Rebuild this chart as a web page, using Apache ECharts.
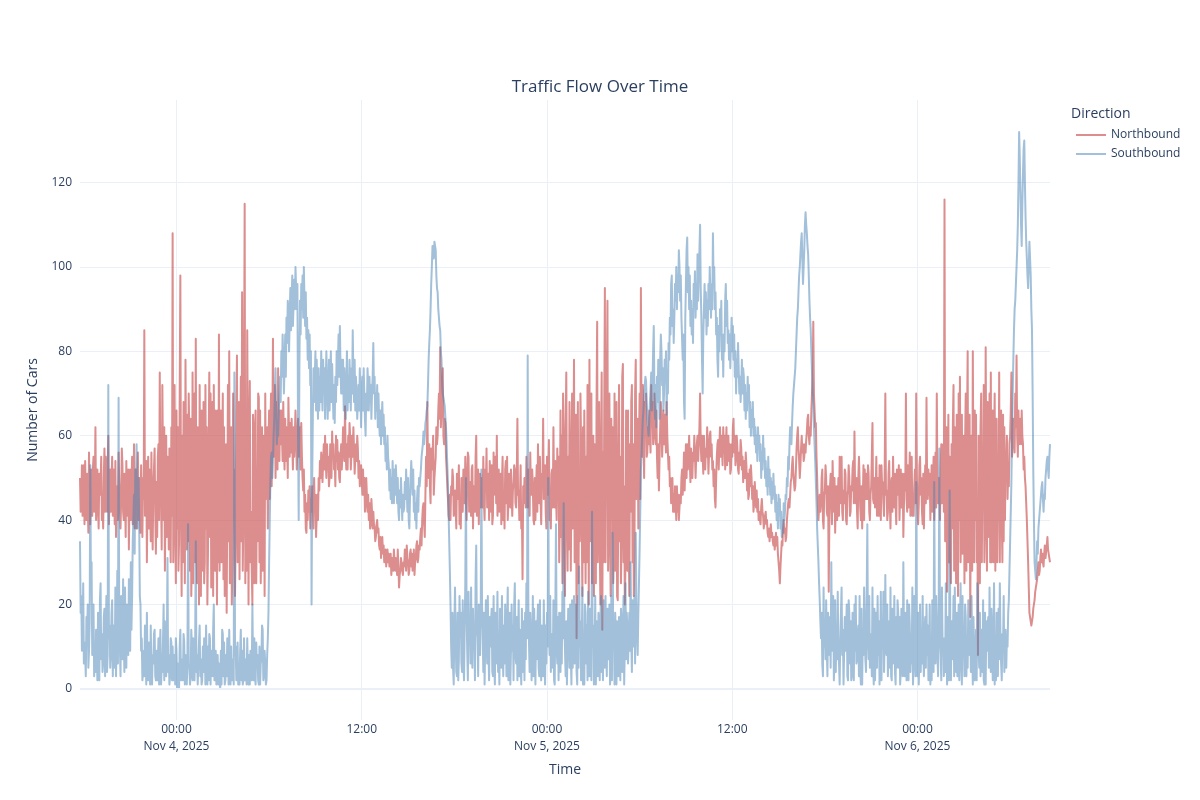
<!DOCTYPE html>
<html>
<head>
<meta charset="utf-8">
<script src="https://cdn.jsdelivr.net/npm/echarts@6/dist/echarts.min.js"></script>
<style>html,body{margin:0;padding:0;background:#fff}#chart{width:1200px;height:800px}</style>
</head>
<body>
<div id="chart"></div>
<script>
// ---- data: readings every 2.5 minutes; each row = one hour starting at HH:45 (first row 2025-11-03 17:45) ----
const startTime = new Date(2025, 10, 3, 17, 45).getTime();
const stepMinutes = 2.5;
const endTime = new Date(2025, 10, 6, 8, 35).getTime();

const northbound = [
[50,42,44,53,41,48,53,39,54,46,40,51,44,37,56,45,39,52,47,41,52,55,42,47],
[62,40,45,52,43,38,51,46,49,55,40,44,38,50,57,42,55,47,42,53,60,39,47,52],
[42,50,55,41,52,47,39,54,36,45,48,40,56,49,43,38,45,57,53,42,40,51,46,36],
[54,44,41,52,33,47,52,40,47,55,39,45,58,38,44,52,38,49,56,40,50,44,37,53],
[44,36,50,45,85,41,42,54,30,47,55,38,52,44,35,56,41,33,48,52,57,42,32,49],
[36,55,58,40,75,50,46,33,72,54,40,62,28,45,60,36,55,48,33,57,45,30,62,41],
[108,30,46,72,40,25,66,38,62,28,35,70,98,42,22,60,30,68,57,25,78,50,33,65],
[35,70,60,28,64,22,33,75,25,55,70,30,83,35,25,62,48,20,72,45,22,66,55,28],
[68,25,30,72,38,62,20,33,57,75,36,70,24,50,68,22,72,45,28,66,45,20,66,30],
[84,28,47,66,30,52,70,26,62,22,28,58,18,44,72,35,80,25,35,62,20,30,70,46],
[52,22,38,65,79,30,45,68,26,52,74,35,94,28,40,70,115,25,48,28,85,55,20,60],
[73,30,42,28,20,65,61,25,58,66,25,48,35,70,69,30,66,25,38,62,28,60,57,22],
[70,45,48,62,38,58,66,45,62,70,48,60,83,55,60,72,50,64,68,52,76,60,54,66],
[58,66,60,54,68,58,52,64,54,62,58,50,69,60,55,63,56,64,58,52,62,55,60,66],
[60,52,58,64,55,60,62,52,63,55,50,47,52,42,46,38,37,44,40,47,42,48,38,45],
[42,48,44,38,50,42,46,36,36,46,40,50,47,54,50,56,56,49,54,58,52,60,54,50],
[58,52,55,48,50,58,54,50,61,55,58,52,54,48,60,54,59,52,56,50,49,55,58,52],
[56,62,58,54,67,56,52,58,52,60,55,63,60,52,56,60,55,62,57,51,51,58,54,60],
[57,50,54,48,48,53,50,46,52,46,50,42,44,50,46,42,46,40,44,38,39,45,42,38],
[42,39,38,35,36,39,40,37,38,34,33,36,31,34,36,32,34,30,30,33,29,31,33,30],
[32,29,29,32,27,30,31,28,33,30,28,31,30,27,33,29,24,27,28,31,31,28,27,30],
[29,33,32,28,34,31,30,27,28,32,33,29,32,28,29,33,27,30,31,34,35,30,31,34],
[33,36,38,34,40,43,44,39,36,46,55,48,68,52,50,58,48,44,57,52,54,60,46,50],
[50,55,62,58,60,66,70,64,81,62,66,72,76,60,58,64,63,55,52,48,45,41,40,46],
[40,48,46,52,50,41,42,47,43,38,51,45,47,53,39,44,38,50,48,42,52,46,44,55],
[45,40,50,56,55,42,43,49,41,52,53,38,48,44,42,55,60,41,46,52,39,47,51,43],
[50,44,43,55,44,40,52,47,57,43,45,51,40,54,49,42,53,39,41,56,46,50,55,44],
[60,41,45,52,42,48,51,39,49,55,40,46,38,52,54,44,55,40,44,51,47,43,52,46],
[41,47,49,53,52,44,43,50,64,46,47,40,45,53,38,42,26,48,44,50,50,43,55,47],
[43,52,50,41,56,47,46,52,48,40,39,50,40,47,53,42,58,45,44,55,45,39,51,48],
[64,45,47,53,42,38,55,46,51,59,40,44,38,51,52,43,62,47,43,54,46,40,57,49],
[55,30,42,66,36,60,25,70,60,40,22,62,75,42,28,55,33,68,52,28,48,70,38,53],
[78,30,45,65,12,44,68,25,52,35,70,58,40,22,62,30,66,48,25,55,30,72,57,20],
[78,35,40,70,25,50,60,22,58,44,25,66,87,30,47,68,36,20,55,75,14,56,30,65],
[95,30,55,72,92,28,38,70,40,22,64,45,62,25,35,70,28,52,68,22,21,50,72,35],
[55,25,36,74,77,30,48,20,30,66,60,28,66,35,22,58,42,68,72,30,58,22,33,70],
[78,45,50,64,38,58,70,45,95,60,55,72,62,50,68,60,70,55,56,62,58,66,60,56],
[72,62,68,58,60,70,66,58,66,55,50,58,47,55,62,68,64,55,60,66,58,65,60,56],
[68,60,56,52,55,48,50,44,46,50,42,46,42,48,44,40,48,42,46,40,40,46,44,50],
[52,46,50,56,47,53,58,50,58,52,55,60,54,49,57,52,50,56,54,60,56,50,55,58],
[60,54,58,62,70,58,54,60,55,51,60,54,52,57,55,62,58,51,56,60,61,55,58,52],
[54,48,52,45,43,50,55,58,59,52,58,62,55,60,57,53,62,56,60,52,57,62,53,58],
[60,54,58,51,52,58,55,62,64,56,60,53,55,60,57,52,51,56,53,59,57,52,55,49],
[49,54,50,56,53,47,51,45,46,52,48,53,50,45,48,42,44,49,46,43,47,42,45,40],
[42,40,39,43,45,42,41,38,38,41,42,39,40,37,36,38,35,37,39,36,37,35,34,36],
[33,35,37,34,36,32,30,28,25,29,32,35,34,38,40,37,38,35,36,40,42,44,45,43],
[46,49,50,53,55,51,49,47,48,52,57,60,62,57,54,50,53,57,60,56,58,54,55,58],
[56,59,61,64,65,60,58,62,60,66,70,74,87,70,66,62,63,55,50,44,40,43,46,42],
[44,50,52,40,38,46,47,53,50,42,41,48,23,40,48,51,46,39,54,47,42,50,37,44],
[48,40,43,50,41,55,52,44,55,42,40,47,44,52,51,40,39,46,47,53,50,41,42,48],
[47,52,54,44,61,47,44,50,42,38,50,55,49,43,40,48,38,45,53,40,52,46,45,51],
[45,53,51,42,40,46,48,55,63,45,44,50,43,47,55,41,50,44,41,53,46,40,53,48],
[49,44,41,52,70,46,47,40,42,51,54,44,38,48,50,42,55,47,43,51,44,39,52,46],
[47,53,40,46,52,43,45,51,36,44,51,47,70,45,42,53,43,49,56,41,48,55,41,46],
[41,48,52,44,70,50,43,39,44,53,55,46,50,42,39,51,38,47,53,44,69,48,45,52],
[46,51,40,47,53,42,47,55,40,46,56,43,70,48,44,50,48,40,52,58,44,50,58,42],
[116,35,48,62,23,42,65,30,55,36,25,58,38,63,72,28,62,48,25,65,45,22,70,40],
[74,30,40,65,32,52,60,25,58,70,28,62,80,30,47,65,17,45,60,28,80,48,30,66],
[40,65,30,45,8,60,48,25,62,70,30,52,45,72,30,40,81,50,28,68,36,45,70,30],
[75,30,44,66,30,58,70,28,58,64,30,46,42,75,30,60,66,40,30,65,35,62,40,55],
[54,60,45,52,48,58,60,66,75,55,58,64,62,56,70,62,79,60,55,66,58,63,64,58],
[66,60,58,52,55,50,48,44,40,35,30,24,18,17,16,15,15,17,19,20,21,23,24,25],
[26,28,30,27,28,31,33,30,32,30,29,32,34,31,31,34,36,33,33,31,30]
];

const southbound = [
[35,18,22,9,14,25,6,11,8,3,17,12,20,5,9,16,53,24,30,8,12,20,3,10],
[4,14,11,2,18,9,2,21,25,7,13,4,6,17,19,3,10,22,4,8,72,12,15,5],
[8,18,21,3,15,10,5,24,3,12,28,6,69,14,10,3,22,9,7,26,12,4,24,11],
[5,20,16,8,26,12,9,30,14,22,35,40,46,32,52,44,58,38,44,50,40,22,20,9],
[12,2,4,9,3,15,10,1,18,6,2,11,7,1,15,4,1,8,6,13,14,3,2,9],
[2,7,12,1,9,14,1,5,4,11,20,2,16,6,3,10,31,4,8,1,3,12,11,2],
[10,2,3,8,1,12,9,0,6,3,0,10,14,2,4,7,2,13,11,1,8,4,1,6],
[39,6,5,1,3,14,10,2,12,6,2,9,35,4,8,1,1,11,15,3,7,1,2,10],
[4,12,9,1,15,5,1,10,2,13,12,1,9,4,3,14,20,2,6,9,1,5,8,1],
[6,2,0,9,1,14,13,3,11,1,2,8,3,12,9,1,14,4,1,10,2,6,7,1],
[75,8,10,2,4,11,1,5,1,9,14,2,9,1,2,12,2,7,6,1,12,4,1,8],
[1,9,5,2,20,6,2,12,3,1,11,5,8,2,1,10,1,6,7,15,14,2,3,9],
[6,1,2,8,12,18,30,40,49,55,56,50,54,60,64,70,76,66,58,63,60,66,70,74],
[68,80,74,84,78,70,76,84,74,88,82,92,90,80,88,95,85,92,98,86,91,97,90,100],
[100,90,96,60,40,75,92,84,96,90,98,88,100,92,86,94,83,88,78,85,76,84,72,80],
[20,50,65,76,68,74,80,66,78,70,64,76,66,74,68,80,72,66,78,70,76,64,72,80],
[72,64,70,78,66,74,80,68,77,70,64,72,63,74,68,80,72,78,84,74,86,76,70,78],
[70,78,66,76,70,64,72,80,66,74,68,78,72,66,76,70,85,74,68,78,66,74,70,64],
[64,72,66,76,70,62,70,74,66,76,70,64,60,70,66,76,72,66,74,68,72,64,70,74],
[82,70,74,64,70,66,72,62,70,64,60,66,58,64,68,60,65,58,62,54,58,52,60,55],
[53,47,52,45,50,44,54,48,44,52,46,53,49,44,50,42,40,47,43,50,45,40,46,42],
[43,49,45,52,47,42,50,40,38,45,50,54,50,46,52,42,47,40,44,38,45,48,42,50],
[48,50,52,55,55,58,61,58,60,63,64,66,67,72,78,82,85,90,96,100,105,103,102,106],
[106,104,98,95,94,90,88,86,85,80,78,72,70,69,68,67,67,62,58,53,49,42,35,28],
[20,10,5,18,5,1,15,24,12,4,3,18,2,7,22,14,18,6,4,21,7,2,14,25],
[50,18,9,2,23,12,16,6,24,10,5,19,10,15,2,26,34,14,12,3,20,9,8,17],
[52,20,14,4,18,1,1,21,15,6,22,9,2,17,10,16,19,4,3,22,5,1,18,6],
[12,23,4,9,1,19,17,5,22,10,3,15,6,20,14,3,16,24,2,11,18,1,9,20],
[9,15,2,20,25,8,6,17,2,12,21,3,14,6,1,19,4,13,16,2,18,7,25,12],
[79,20,11,4,18,13,2,8,22,3,19,10,1,16,7,15,20,5,3,21,8,2,15,6],
[3,21,9,1,15,6,18,10,50,14,8,22,4,12,13,5,21,2,1,19,39,10,6,17],
[2,18,10,4,18,6,23,12,44,15,9,3,16,1,1,19,13,5,20,8,1,21,5,12],
[22,6,12,20,4,1,22,5,29,10,16,2,9,24,1,13,1,20,18,6,15,2,23,9],
[3,19,13,2,42,10,15,1,7,22,1,16,16,3,18,11,2,16,22,4,11,2,21,8],
[5,22,10,3,19,7,12,20,1,4,22,2,37,10,14,1,18,14,1,16,14,3,17,12],
[2,19,16,4,12,22,1,10,25,7,18,14,6,12,18,9,30,12,4,21,10,18,22,6],
[37,20,12,8,18,25,33,42,52,55,60,64,66,70,72,74,73,68,64,62,60,64,68,71],
[75,66,72,80,86,70,64,72,62,74,68,78,72,64,78,84,80,72,76,66,70,78,74,80],
[65,74,70,82,78,88,84,96,98,86,90,82,88,96,92,100,90,98,94,104,100,92,98,88],
[88,78,84,68,64,88,96,104,107,94,100,90,98,86,92,84,90,82,96,92,99,88,96,90],
[103,92,98,104,110,95,88,78,70,84,90,96,88,94,84,92,86,96,90,100,94,88,96,90],
[108,96,100,90,94,84,88,78,74,86,80,90,84,92,78,84,74,84,80,92,96,86,92,82],
[85,78,84,76,82,88,80,86,78,84,74,80,70,78,74,82,76,70,74,68,72,78,70,76],
[74,66,72,64,70,66,74,68,72,62,68,60,66,62,68,60,64,58,62,56,60,54,62,58],
[60,54,58,50,56,52,60,54,57,50,54,48,52,46,55,48,52,46,50,44,49,45,51,46],
[48,42,46,40,44,38,46,42,45,38,42,36,40,37,44,40,42,46,45,50,48,55,52,58],
[62,60,58,63,67,70,72,74,76,80,84,88,90,94,98,100,103,106,108,102,96,100,104,110],
[113,110,108,105,103,98,92,88,85,80,75,70,67,62,58,54,49,44,38,34,30,25,21,16],
[12,18,6,3,24,10,15,7,21,9,3,18,8,13,17,5,30,12,9,22,2,8,21,4],
[15,7,23,9,6,1,12,18,24,8,14,1,1,17,9,14,20,3,2,21,18,6,16,2],
[3,18,10,2,20,9,22,6,7,13,15,3,22,5,1,19,1,14,8,24,16,7,4,21],
[39,12,7,22,5,10,13,3,24,6,1,19,2,11,18,5,22,8,16,1,8,23,2,16],
[11,23,4,12,27,9,8,20,3,10,16,5,24,3,2,19,6,12,22,4,1,17,5,21],
[18,5,17,1,4,19,11,3,30,12,3,18,9,2,21,6,2,20,15,4,13,6,24,1],
[6,22,14,3,49,10,3,18,1,8,20,4,12,6,22,9,3,14,17,5,20,8,15,2],
[9,20,1,8,2,21,13,4,49,15,6,22,15,8,3,20,57,12,8,2,24,10,12,3],
[12,4,25,10,1,17,9,2,47,14,2,16,7,12,22,3,24,8,4,18,3,11,20,2],
[14,25,6,1,22,9,11,3,20,17,3,12,5,21,13,8,16,4,22,10,1,17,9,2],
[8,14,2,25,22,9,5,18,3,11,14,4,21,2,1,18,1,16,9,15,17,5,24,10],
[4,19,13,2,10,25,1,12,2,18,16,3,19,7,25,12,6,2,13,10,22,4,8,14],
[5,12,10,18,21,28,35,42,49,60,70,78,85,90,92,96,96,104,110,120,132,126,118,110],
[105,115,122,128,130,120,112,106,102,98,95,100,106,102,98,90,85,70,52,40,30,28,26,30],
[35,32,38,40,40,44,46,48,49,45,42,46,45,50,52,54,55,52,50,55,58]
];

const yTicks = [0, 20, 40, 60, 80, 100, 120];
const xTicks = [
  new Date(2025, 10, 4, 0, 0).getTime(),
  new Date(2025, 10, 4, 12, 0).getTime(),
  new Date(2025, 10, 5, 0, 0).getTime(),
  new Date(2025, 10, 5, 12, 0).getTime(),
  new Date(2025, 10, 6, 0, 0).getTime()
];
const monthNames = ['Jan','Feb','Mar','Apr','May','Jun','Jul','Aug','Sep','Oct','Nov','Dec'];

function toPoints(rows) {
  const out = [];
  rows.forEach((row, r) => {
    row.forEach((v, j) => {
      out.push([startTime + r * 3600000 + j * stepMinutes * 60000, v]);
    });
  });
  return out;
}
const northData = toPoints(northbound);
const southData = toPoints(southbound);

const font = '"Open Sans", verdana, arial, sans-serif';
const txt = '#2a3f5f';
const grid = '#EBF0F8';

const chart = echarts.init(document.getElementById('chart'), null, {renderer: 'canvas'});
chart.setOption({
  animation: false,
  backgroundColor: '#ffffff',
  textStyle: {fontFamily: font},
  title: [
    {text: 'Traffic Flow Over Time', left: 'center', top: 74,
     textStyle: {fontSize: 17, fontWeight: 'normal', color: txt, fontFamily: font}},
    {text: 'Direction', left: 1066, top: 102,
     textStyle: {fontSize: 14, fontWeight: 'normal', color: txt, fontFamily: font}}
  ],
  legend: {
    orient: 'vertical', left: 1071, top: 124, itemWidth: 30, itemHeight: 2, itemGap: 7,
    icon: 'rect', data: ['Northbound', 'Southbound'],
    textStyle: {fontSize: 12, color: txt, fontFamily: font}
  },
  grid: {left: 80, right: 150, top: 100, bottom: 80},
  xAxis: {
    type: 'value', min: startTime, max: endTime, scale: true,
    name: 'Time', nameLocation: 'middle', nameGap: 43,
    nameTextStyle: {fontSize: 14, color: txt, fontFamily: font},
    axisLine: {show: false},
    axisTick: {show: false, customValues: xTicks},
    axisLabel: {
      customValues: xTicks, color: txt, fontSize: 12, lineHeight: 17, margin: 1, fontFamily: font,
      formatter: function (v) {
        const d = new Date(v);
        const hh = String(d.getHours()).padStart(2, '0') + ':' + String(d.getMinutes()).padStart(2, '0');
        if (d.getHours() === 0) return hh + '\n' + monthNames[d.getMonth()] + ' ' + d.getDate() + ', ' + d.getFullYear();
        return hh;
      }
    },
    splitLine: {show: true, lineStyle: {color: grid, width: 1}}
  },
  yAxis: {
    type: 'value', min: -7.4, max: 139.6,
    name: 'Number of Cars', nameLocation: 'middle', nameGap: 40,
    nameTextStyle: {fontSize: 14, color: txt, fontFamily: font},
    axisLine: {show: false},
    axisTick: {show: false, customValues: yTicks},
    axisLabel: {customValues: yTicks, color: txt, fontSize: 12, margin: 8, fontFamily: font},
    splitLine: {show: true, lineStyle: {color: grid, width: 1}}
  },
  series: [
    {
      name: 'zero', type: 'line', data: [], z: 1, silent: true,
      markLine: {silent: true, symbol: 'none', label: {show: false},
        lineStyle: {color: grid, width: 2, type: 'solid'}, data: [{yAxis: 0}]}
    },
    {
      name: 'Northbound', type: 'line', data: northData, showSymbol: false, symbol: 'none',
      color: 'rgba(205,92,92,0.7)',
      lineStyle: {width: 2, color: 'rgba(205,92,92,0.7)', join: 'round'}
    },
    {
      name: 'Southbound', type: 'line', data: southData, showSymbol: false, symbol: 'none',
      color: 'rgba(70,130,180,0.5)',
      lineStyle: {width: 2, color: 'rgba(70,130,180,0.5)', join: 'round'}
    }
  ]
});
</script>
</body>
</html>
